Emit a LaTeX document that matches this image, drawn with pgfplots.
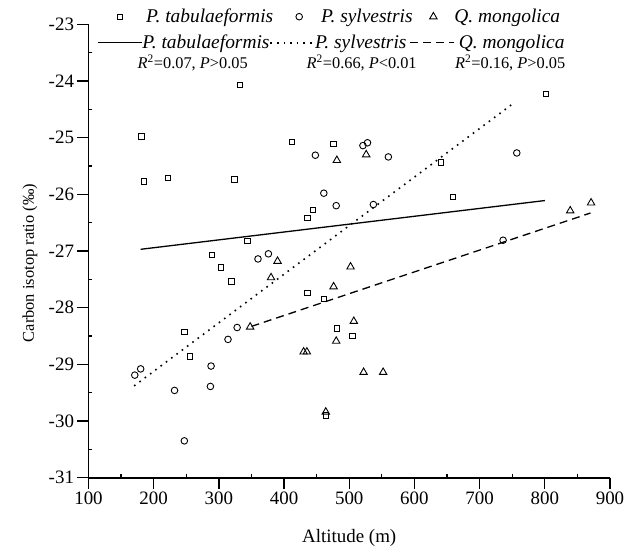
\documentclass[border=0pt]{standalone}
\usepackage{fontspec}
\setmainfont{Liberation Serif}
\usepackage{pgfplots}
\pgfplotsset{compat=1.18}
\pgfplotsset{
  base/.style={
    scale only axis, width=521.5bp, height=453.4bp,
    xmin=100, xmax=900, ymin=-31, ymax=-23,
    anchor=south west, at={(0,0)},
  },
  marklegend/.style={legend image code/.code={\path[draw=none,fill=none] (0bp,-6bp) rectangle (16bp,6bp); \draw[##1] plot coordinates {(8bp,0bp)};}},
  linelegend/.style={legend image code/.code={\draw[##1] plot coordinates {(0bp,0bp) (44bp,0bp)};}},
}
\begin{document}
\begin{tikzpicture}
\path (-88.5bp,-76.3bp) rectangle (545.5bp,477.7bp);
\begin{axis}[base,
  axis x line*=bottom, axis y line*=left,
  axis line style={line width=1.6bp},
  xtick={100,200,...,900},
  xticklabels={100,200,300,400,500,600,700,800,900},
  ytick={-31,-30,...,-23},
  yticklabels={-31,-30,-29,-28,-27,-26,-25,-24,-23},
  tick align=outside,
  major tick length=11bp,
  tick style={line width=1.3bp, black},
  extra x ticks={150,250,...,850},
  extra x tick labels={},
  extra x tick style={tick align=inside, major tick length=4bp},
  extra y ticks={-30.5,-29.5,...,-23.5},
  extra y tick labels={},
  extra y tick style={tick align=inside, major tick length=4bp},
  ticklabel style={font=\fontsize{19}{22}\selectfont},
  xlabel={\fontsize{19}{22}\selectfont Altitude (m)},
  ylabel={\fontsize{16.5}{20}\selectfont Carbon isotop ratio (‰)},
  xlabel style={at={(axis description cs:0.5,-0.133)}, anchor=center},
  ylabel style={at={(axis description cs:-0.1122,0.4735)}, anchor=center},
  legend style={draw=none, fill=none, legend columns=3,
    at={(axis description cs:0,1)}, anchor=west, xshift=23.5bp, yshift=7.6bp,
    inner sep=0pt, nodes={inner sep=0pt},
    font=\fontsize{19.5}{22}\selectfont,
    /tikz/column 1/.style={column sep=18bp},
    /tikz/column 2/.style={column sep=18bp},
    /tikz/column 3/.style={column sep=14bp},
    /tikz/column 4/.style={column sep=12.8bp},
    /tikz/column 5/.style={column sep=13bp}},
  legend cell align=left,
]
\addplot[only marks, mark=square, mark size=2.7bp, black, line width=0.9bp, marklegend]
coordinates {(181,-24.98) (185,-25.77) (222,-25.71) (247,-28.43) (256,-28.86) (289,-27.07) (303,-27.29) (319,-27.54) (324,-25.74) (332,-24.07) (344,-26.82) (412,-25.08) (436,-26.42) (444,-26.28) (436,-27.74) (461,-27.85) (464,-29.90) (476,-25.11) (481,-28.37) (505,-28.50) (641,-25.44) (659,-26.05) (802,-24.23)};
\addlegendentry{\textit{P. tabulaeformis}}
\addplot[only marks, mark=o, mark size=3.3bp, black, line width=0.9bp, marklegend]
coordinates {(171,-29.19) (180,-29.08) (232,-29.46) (247,-30.35) (287,-29.39) (288,-29.03) (314,-28.56) (328,-28.35) (360,-27.14) (376,-27.05) (448,-25.31) (461,-25.98) (480,-26.20) (521,-25.14) (528,-25.09) (537,-26.18) (560,-25.34) (736,-26.81) (757,-25.27)};
\addlegendentry{\textit{P. sylvestris}}
\addplot[only marks, mark=triangle, mark size=4.3bp, black, line width=0.9bp, marklegend]
coordinates {(348,-28.34) (380,-27.47) (390,-27.18) (430,-28.78) (435,-28.78) (464,-29.84) (476,-27.63) (480,-28.59) (481,-25.40) (502,-27.28) (507,-28.24) (522,-29.14) (526,-25.30) (552,-29.14) (839,-26.29) (871,-26.15)};
\addlegendentry{\textit{Q. mongolica}}
\end{axis}
\begin{axis}[base, hide axis,
  legend style={draw=none, fill=none, legend columns=3,
    at={(axis description cs:0,1)}, anchor=west, xshift=8.5bp, yshift=-18.4bp,
    inner sep=0pt, nodes={inner sep=0pt},
    font=\fontsize{19.5}{22}\selectfont,
    /tikz/column sep=0bp,
    /tikz/column 4/.style={column sep=3bp},
    /tikz/column 5/.style={column sep=4bp}},
  legend cell align=left,
]
\addplot[black, mark=none, line width=1.3bp, linelegend] coordinates {(180,-26.97) (800,-26.11)};
\addlegendentry{\textit{P. tabulaeformis}}
\addplot[black, mark=none, line width=1.6bp, dash pattern=on 1.6bp off 5bp, linelegend] coordinates {(170,-29.38) (750,-24.41)};
\addlegendentry{\textit{P. sylvestris}}
\addplot[black, mark=none, line width=1.3bp, dash pattern=on 8bp off 5bp, linelegend] coordinates {(350,-28.33) (870,-26.33)};
\addlegendentry{\textit{Q. mongolica}}
\node[anchor=west, inner sep=0pt, font=\fontsize{16.4}{19}\selectfont] at (axis description cs:0.094,0.9153) {\textit{R}\textsuperscript{2}=0.07, \textit{P}>0.05};
\node[anchor=west, inner sep=0pt, font=\fontsize{16.4}{19}\selectfont] at (axis description cs:0.418,0.9153) {\textit{R}\textsuperscript{2}=0.66, \textit{P}<0.01};
\node[anchor=west, inner sep=0pt, font=\fontsize{16.4}{19}\selectfont] at (axis description cs:0.7028,0.9153) {\textit{R}\textsuperscript{2}=0.16, \textit{P}>0.05};
\end{axis}
\end{tikzpicture}
\end{document}
